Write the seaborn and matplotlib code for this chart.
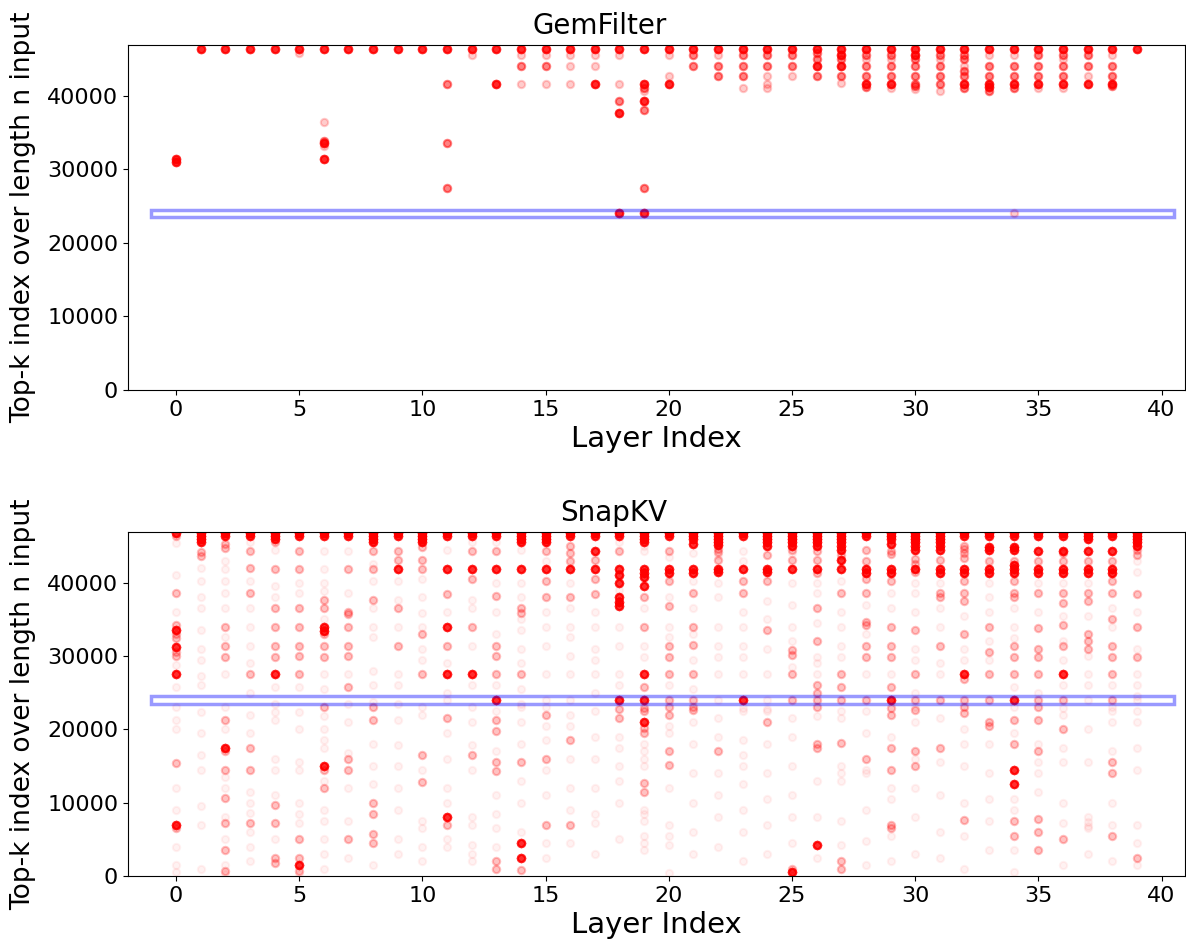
import numpy as np
import pandas as pd
import matplotlib
matplotlib.use('Agg')
import matplotlib.pyplot as plt
import matplotlib.patches as patches
import seaborn as sns

layers = list(range(40))
n_input = 46900

# GemFilter top-k positions per layer, grouped by how many heads hit them
gem_solid = [
    [31400, 31000], [46300], [46300], [46300], [46300], [46300],
    [46300, 33600, 31400], [46300], [46300], [46300], [46300], [46300],
    [46300], [46300, 41650], [46300], [46300], [46300], [46300, 41650],
    [46300, 37600, 24000], [46300, 41650, 39350, 24000], [46300, 41650],
    [46300], [46300], [46300], [46300], [46300], [46300, 44100],
    [46300, 45600, 44100], [46300, 41650], [46300, 41650], [46300, 45600],
    [46300], [46300, 41650], [46300, 41650, 41200], [46300, 41650],
    [46300, 41650], [46300, 41650], [46300, 41650], [46300, 41650], [46300],
]
gem_medium = [
    [], [], [], [], [], [], [33900], [], [], [], [],
    [41650, 33600, 27450], [], [], [44100], [44100], [], [], [39350],
    [41050, 38000, 27450], [], [45600, 44100], [44100, 42750],
    [45600, 44100, 42750], [45600, 44100], [45600, 44100],
    [45800, 45000, 42750], [45000, 42750], [45600, 44100, 42750, 41200],
    [45600, 44100, 42750], [45000, 44100, 42750, 41650, 41300],
    [45600, 44100, 42750, 41650], [45600, 45000, 43400, 42750, 41050],
    [44100, 42750, 40600], [44000, 42750, 41050], [45600, 44100, 42750],
    [45600, 44100, 42750], [45600, 44100], [44100, 42750, 41300], [],
]
gem_faint = [
    [], [], [], [], [], [45800], [36400, 33200], [], [], [], [], [],
    [45600], [], [45600, 41650], [45600, 41650], [45600, 44100, 41650],
    [45600, 44100], [45600, 41650], [40600], [45600, 42750], [], [45600],
    [41050], [42750, 41650, 41050], [42750], [], [41800], [45000],
    [45000, 41050], [40900], [45000, 40700], [44100], [45600],
    [45600, 24000], [41050], [45000, 41050], [42750], [45600], [],
]

# SnapKV top-k positions per layer
snap_solid = [
    [46700, 33600, 31200, 27600, 7000],
    [46700, 46300, 45900, 45500],
    [46700, 46300, 17400],
    [46700, 46300],
    [46700, 46300, 45900, 27600],
    [46700, 46300, 1500],
    [46700, 46300, 34000, 33400, 15000],
    [46700, 46300],
    [46700, 46300, 45900, 45500],
    [46700, 46300, 41900],
    [46700, 46300, 45900, 45500],
    [46700, 46300, 41900, 34000, 27600, 8000],
    [46700, 46300, 41900, 27600],
    [46700, 46300, 41900, 24000],
    [46700, 46300, 45900, 45500, 41900, 4500, 2400],
    [46700, 46300, 45900, 45500, 41900],
    [46700, 46300, 41900],
    [46700, 46300, 44300, 41900],
    [46700, 46300, 41900, 41000, 40000, 38000, 37400, 36800, 24000],
    [46700, 46300, 45900, 45500, 41900, 41300, 40700, 39500, 27600, 24000, 21000],
    [46700, 46300, 41900, 41300],
    [46700, 46300, 45900, 45300, 41900, 41300],
    [46700, 46300, 45900, 45500, 45100, 41900, 41500],
    [46700, 46300, 41900, 24000],
    [46700, 46300, 45900, 45500, 45000, 41900, 41500],
    [46700, 46300, 45900, 45500, 45000, 41900, 600],
    [46700, 46300, 45900, 45500, 45000, 41900, 4300],
    [46700, 46300, 45900, 45500, 45000, 44500, 43100, 41900],
    [46700, 46300, 41900, 41300],
    [46700, 46300, 45900, 45300, 41900, 41300, 24000],
    [46700, 46300, 45900, 45500, 45000, 44500, 41900],
    [46700, 46300, 45900, 45500, 45000, 44500, 41900, 41300],
    [46700, 46300, 41900, 41300, 27600],
    [46700, 46300, 44800, 44400, 41900, 41300],
    [46700, 46300, 44800, 44400, 42400, 41900, 41300, 24000, 14500, 12500],
    [46700, 46300, 44300, 41900, 41300],
    [46700, 46300, 44300, 41900, 41300, 27600],
    [46700, 46300, 45900, 44300, 41900, 41300],
    [46700, 46300, 44300, 41900, 41300],
    [46700, 46300, 45900, 45500, 45000],
]
snap_medium = [
    [46300, 38600, 34200, 33000, 32400, 30600, 30000, 15400, 6600],
    [44200, 43600],
    [45300, 44700, 33900, 31300, 29900, 21300, 17000, 14500, 10600, 7200, 3500, 700],
    [44300, 42000, 38600, 27600, 17400, 14500, 7200],
    [45500, 41900, 36500, 34000, 31300, 29900, 9700, 7200, 2400, 1800],
    [44300, 41900, 36500, 34000, 31300, 30000, 27600, 5000, 2400, 700],
    [37700, 36500, 33000, 31300, 29900, 23000, 14400, 12000],
    [41900, 36000, 35700, 34000, 31300, 30000, 25800, 16000, 14500, 5000],
    [44300, 41900, 37700, 23000, 21300, 10000, 8500, 5700, 4500],
    [44300, 43100, 36500, 31300],
    [44800, 43100, 41900, 33000, 27600, 16500, 12800],
    [38400, 31300, 21500, 7000],
    [44300, 40500, 34000, 16500],
    [44300, 38200, 31300, 30000, 27600, 21300, 19800, 15500, 14300, 2000, 1000],
    [36500, 35800, 27600, 15500, 800],
    [44300, 40200, 38100, 22000, 16000, 7000],
    [45000, 44000, 43000, 38100, 18500, 7000],
    [43100, 40500, 38500],
    [44300, 22800, 21500],
    [38100, 34000, 25800, 22900, 22500, 20200, 19500, 12700, 11500],
    [44300, 40200, 36800, 31300, 29900, 27600, 24000, 23000, 22000, 17000, 15200],
    [38600, 34000, 31500, 27600, 24000, 23000, 22600],
    [44600, 44200, 43100, 17000],
    [40200, 38600],
    [43800, 40200, 33500, 21000],
    [44500, 43100, 30800, 30200, 27600, 24000, 1000],
    [44300, 43100, 41300, 36500, 32000, 26000, 25000, 24000, 23000, 18000, 17400],
    [43800, 38600, 27600, 25800, 24000, 18200, 2000, 1000],
    [44500, 43000, 40500, 38600, 34700, 34200, 31300, 29900, 24000, 16000],
    [44300, 43900, 40200, 34000, 31300, 29900, 25800, 22900, 22000, 17500, 14500, 7000, 6600],
    [43200, 42600, 41400, 33500, 27600, 24000, 22600, 17000, 15000],
    [43100, 38600, 38000, 31300, 24000, 17500],
    [45000, 44600, 44000, 43400, 40200, 38600, 37500, 33000, 26800, 24000, 23000, 22200, 7600],
    [43000, 34000, 30500, 27600, 24000, 21000, 20500],
    [43000, 40200, 38600, 38000, 31300, 29900, 27600, 21300, 18000, 7500, 5500],
    [43000, 38600, 33800, 31000, 29900, 27600, 24000, 23000, 21300, 17000, 7800, 6000, 3500],
    [44000, 43000, 38600, 37200, 34200, 31300, 24000, 20000, 5000],
    [43000, 38600, 37500, 33000, 32000, 31000],
    [43000, 40200, 38600, 35000, 31300, 29900, 27600, 24000, 15500, 14000, 5400],
    [44400, 43800, 38500, 34000, 29900, 2500],
]
snap_faint = [
    [45400, 41000, 36000, 28800, 25800, 23000, 21300, 20000, 12000, 9000, 4000, 1500, 600],
    [42000, 40200, 38000, 36500, 33500, 31000, 29500, 27300, 26000, 22400, 19500, 16500, 14500, 9500, 7000, 1000],
    [43000, 41900, 40200, 38600, 36500, 32600, 27500, 23000, 20000, 13500, 12000, 8000, 5000, 1500, 300],
    [45500, 40200, 36500, 34000, 31300, 29000, 25000, 22000, 19500, 11500, 10000, 8600, 6000, 4000, 2000],
    [44500, 39500, 38000, 25800, 23500, 22400, 21300, 16000, 14500, 11000, 5000],
    [40000, 38600, 25800, 22400, 20000, 15500, 14500, 10000, 8500, 7200, 300],
    [44300, 41900, 40000, 38800, 35000, 27600, 25500, 21800, 20000, 18500, 17500, 13000, 9000, 7500, 5000, 3000, 1000],
    [44300, 38600, 27600, 23500, 21000, 16800, 12000, 7500, 2500],
    [42500, 40200, 36500, 34000, 32600, 28000, 26000, 23700, 18000, 15000, 12500, 1500],
    [40200, 37700, 34000, 27600, 26000, 23500, 21300, 17800, 15000, 12000, 9000, 5000, 3000],
    [40500, 38000, 35900, 34000, 31000, 29500, 23000, 22000, 14500, 7500, 6500, 4000, 2000],
    [44500, 36000, 29000, 25000, 24000, 19500, 16000, 12000, 10000, 5000, 4000],
    [45500, 37700, 36500, 31300, 26000, 23000, 21000, 17800, 14500, 8000, 7000, 4200, 3000, 2000],
    [45500, 40000, 36000, 33000, 26000, 22500, 17000, 11000, 8500, 6500, 4000],
    [44500, 40000, 38000, 35000, 33500, 31000, 29000, 25500, 23500, 23000, 21000, 18000, 13000, 10000, 6000],
    [43000, 36000, 34000, 31300, 27600, 24000, 23000, 20500, 18500, 14500, 11000, 4500, 2500],
    [40000, 36500, 34000, 32600, 30000, 27600, 24000, 22000, 20500, 16000, 12000, 9000, 4500],
    [36000, 34000, 31000, 29500, 27600, 25000, 22500, 19000, 16000, 12000, 8500, 7200, 3000],
    [45500, 39000, 34000, 31300, 27600, 26000, 19000, 17500, 15000, 13000, 10000, 5000],
    [45000, 44300, 36500, 31300, 29900, 18000, 17000, 16000, 15000, 9000, 8500, 7500, 5500, 4500, 3500],
    [43500, 38000, 34000, 32600, 26000, 20500, 19500, 12000, 7000, 5400, 4300, 400],
    [44000, 40200, 36500, 33000, 29500, 25500, 21000, 18000, 14000, 10000, 6000, 3000],
    [43800, 40000, 38000, 34000, 31300, 29900, 27600, 24000, 21500, 19000, 14000, 11000, 8000, 4000],
    [44300, 43000, 36000, 34000, 31300, 29900, 27600, 22900, 22500, 18500, 16500, 15000, 12500, 9000, 6000, 2000],
    [37500, 35000, 31000, 27600, 24000, 22800, 22500, 18000, 14000, 10500, 7000, 3000],
    [44000, 40000, 37000, 34000, 32000, 28500, 21500, 19000, 15000, 11000, 8000, 4500],
    [40000, 38600, 34500, 29900, 29000, 27600, 21800, 13000, 8000, 2500],
    [40200, 36000, 34000, 31300, 29900, 22500, 21500, 15000, 14000, 13000, 7500, 4300],
    [37000, 33000, 27600, 22500, 19500, 14500, 14000, 9000, 4800, 1500],
    [38600, 36600, 27600, 19000, 12000, 10500, 5500, 2000],
    [40000, 38600, 36000, 31000, 29500, 24900, 23000, 21000, 16000, 12000, 8000, 3000],
    [40000, 36500, 34000, 29000, 27600, 21500, 15500, 11000, 6000, 2500],
    [35500, 31000, 29500, 20000, 18000, 15000, 10000, 5500, 1000],
    [40000, 38000, 36000, 32000, 29500, 18000, 14000, 10500, 7500, 3500],
    [36500, 34000, 32500, 25800, 23000, 19500, 10500, 9000, 3500, 500],
    [40000, 36000, 25000, 18000, 15500, 14000, 11500],
    [40000, 35400, 32000, 29500, 26000, 22900, 22000, 17500, 15500, 10000, 7200, 1500],
    [40000, 35500, 30000, 27600, 26000, 24000, 20000, 15500, 8000, 7400, 6800, 6500, 3000],
    [36500, 34000, 26000, 23000, 22500, 21000, 17000, 10000, 7000, 2000],
    [43000, 41500, 36000, 31000, 27600, 26000, 24500, 24000, 22500, 21000, 17500, 14500, 7000, 4500, 1500],
]


def to_frame(groups, hits):
    # one row per head that picked the position, so overlaps stack up in colour
    rows = []
    for group, k in zip(groups, hits):
        for layer in layers:
            for v in group[layer]:
                rows += [(layer, v)] * k
    return pd.DataFrame(rows, columns=['layer', 'topk'])


gem_df = to_frame([gem_solid, gem_medium, gem_faint], [8, 3, 1])
snap_df = to_frame([snap_solid, snap_medium, snap_faint], [30, 5, 1])

fig = plt.figure(figsize=(11.86, 9.48), dpi=100)
ax1 = fig.add_axes([0.1079, 0.5886, 0.8912, 0.3639])
ax2 = fig.add_axes([0.1079, 0.0759, 0.8912, 0.3629])

panels = [(ax1, gem_df, 'GemFilter', 0.2), (ax2, snap_df, 'SnapKV', 0.05)]
for ax, df, name, a in panels:
    sns.scatterplot(data=df, x='layer', y='topk', color='red', edgecolor='red',
                    linewidth=1.5, s=28, alpha=a, legend=False, ax=ax)
    ax.add_patch(patches.Rectangle((-1, 23500), 41.5, 1000, fill=False,
                                   edgecolor='blue', alpha=0.4, linewidth=2.5))
    ax.set_xlim(-1.95, 40.95)
    ax.set_ylim(0, n_input)
    ax.set_xticks(range(0, 41, 5))
    ax.set_yticks(range(0, 40001, 10000))
    ax.tick_params(labelsize=16)
    ax.set_title(name, fontsize=20, x=0.51, ha='right', pad=8)
    ax.set_xlabel('Layer Index', fontsize=21)
    ax.set_ylabel('Top-k index over length n input', fontsize=19, labelpad=8)

plt.savefig('out.png', dpi=100)
